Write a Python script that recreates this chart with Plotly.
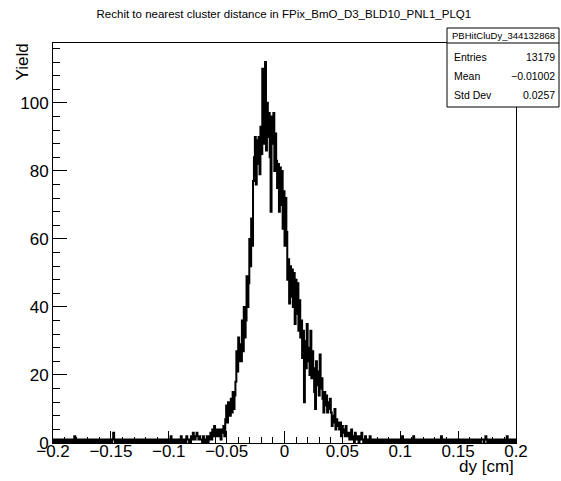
import plotly.graph_objects as go

# Histogram binning: dy in cm
x_min, x_max, n_bins = -0.2, 0.2, 500

# Bin contents (left tail, central peak, right tail)
counts_left_tail = [
    0, 1, 0, 1, 1, 0, 0, 1, 0, 1, 0, 0, 1, 1, 0, 1, 0, 0, 1, 0,
    1, 0, 1, 2, 0, 0, 1, 0, 1, 0, 1, 1, 0, 0, 1, 0, 0, 1, 1, 0,
    0, 1, 1, 0, 1, 0, 0, 1, 0, 1, 0, 1, 1, 0, 0, 1, 0, 1, 0, 0,
    1, 0, 1, 0, 1, 3, 1, 0, 1, 0, 0, 1, 1, 0, 1, 0, 1, 0, 0, 1,
    1, 0, 0, 1, 1, 0, 1, 0, 1, 0, 1, 1, 0, 0, 1, 0, 1, 1, 0, 1,
    0, 1, 0, 0, 1, 1, 0, 1, 1, 0, 1, 0, 1, 0, 0, 1, 1, 0, 1, 0,
    1, 0, 1, 1, 0, 1, 0, 2, 1, 0, 1, 1, 0, 1, 1, 0, 1, 0, 2, 1,
    0, 1, 1, 0, 2, 1, 1, 0, 1, 2, 1, 3, 2, 1, 2, 3, 2, 1, 2, 1,
]
counts_core = [
    1, 0, 2, 1, 0, 1, 2, 0, 1, 2,
    3, 1, 4, 2, 5, 3, 2, 4,
    2, 4, 3, 1, 4, 3, 5, 2,
    7, 11, 6, 12, 9, 8,
    13, 9, 15, 10, 14,
    18, 27, 21, 31, 24, 29,
    24, 36, 27, 40, 31,
    36, 49, 40,
    47, 60, 52, 66, 58, 77,
    84, 90, 76, 89, 82, 90, 79,
    93, 85, 110,
    88, 95, 112, 86,
    100, 90, 97, 84,
    68, 96, 88, 97,
    80, 91, 83, 75, 82,
    68, 81, 70, 80, 63,
    74, 58, 72,
    62, 48,
    54, 41, 52, 43, 51,
    40, 50, 35, 48, 38, 47, 33,
    42, 31,
    36, 25, 33, 12, 30, 22, 35, 24, 28, 20, 33, 19, 27,
    22, 15, 10, 24, 17, 21, 14, 26, 16, 19,
    13, 9, 15, 11, 14, 9, 12, 10, 13,
    9, 5, 8, 6, 10, 4, 7, 5, 6,
    4, 6, 2, 5, 3, 4, 2, 5, 3,
    2, 3, 1, 2, 4, 1, 2, 0, 3, 1, 2, 1, 0, 2, 1, 3, 1, 0, 1, 2, 0, 1, 1, 0, 2,
]
counts_right_tail = [
    1, 0, 1, 1, 0, 1, 0, 1, 0, 1, 1, 0, 1, 0, 0, 1, 0, 1, 1, 0,
    1, 0, 1, 0, 0, 1, 0, 1, 1, 0, 0, 1, 0, 0, 2, 0, 1, 0, 0, 1,
    0, 1, 0, 0, 1, 0, 2, 0, 0, 1, 1, 0, 1, 0, 0, 1, 1, 0, 1, 0,
    0, 1, 0, 1, 1, 0, 0, 1, 1, 0, 1, 0, 0, 1, 0, 1, 2, 0, 1, 0,
    1, 0, 0, 1, 0, 1, 1, 0, 0, 1, 0, 1, 1, 0, 1, 0, 0, 1, 1, 0,
    1, 0, 1, 1, 0, 0, 1, 1, 0, 1, 0, 1, 0, 0, 1, 1, 0, 1, 0, 1,
    1, 1, 0, 1, 2, 1, 0, 1, 0, 0, 1, 1, 0, 1, 0, 0, 1, 0, 1, 1,
    0, 1, 0, 1, 0, 0, 1, 2, 0, 1, 0, 0, 1, 0, 0, 1, 0,
]

# Axis ticks
x_tick_vals = [-0.2, -0.15, -0.1, -0.05, 0.0, 0.05, 0.1, 0.15, 0.2]
x_tick_text = ["\u22120.2", "\u22120.15", "\u22120.1", "\u22120.05", "0",
               "0.05", "0.1", "0.15", "0.2"]
y_tick_vals = [0, 20, 40, 60, 80, 100]

# Stats box contents
hist_name = "PBHitCluDy_344132868"
stat_names = ["Entries", "Mean", "Std Dev"]
stat_values = ["13179", "\u22120.01002", "0.0257"]

counts = counts_left_tail + counts_core + counts_right_tail
bin_width = (x_max - x_min) / n_bins
edges = [x_min + k * bin_width for k in range(n_bins + 1)]

# Step outline: start on the baseline, one step per bin, back down at the end
step_x = [edges[0]] + edges[:-1] + [edges[-1], edges[-1]]
step_y = [0] + counts + [counts[-1], 0]

FONT = "Liberation Sans, Arial, Helvetica, sans-serif"

fig = go.Figure()
fig.add_trace(go.Scatter(
    x=step_x, y=step_y, mode="lines",
    line=dict(color="black", width=2, shape="hv"),
    hoverinfo="skip", showlegend=False,
))

y_top = 1.05 * max(counts)

fig.update_layout(
    width=561, height=481,
    margin=dict(l=53, r=45, t=43, b=38, pad=0),
    paper_bgcolor="white", plot_bgcolor="white",
    font=dict(family=FONT, color="black"),
    showlegend=False,
    title=dict(
        text="Rechit to nearest cluster distance in FPix_BmO_D3_BLD10_PNL1_PLQ1",
        x=0.506, xref="container", xanchor="center",
        y=1 - 14 / 481, yref="container", yanchor="middle",
        font=dict(family=FONT, size=11.5, color="black"),
    ),
    xaxis=dict(
        range=[x_min, x_max], tickmode="array",
        tickvals=x_tick_vals, ticktext=x_tick_text,
        ticks="inside", ticklen=12, tickwidth=1, tickcolor="black",
        tickfont=dict(family=FONT, size=17, color="black"),
        ticklabelstandoff=-7,
        minor=dict(tickmode="linear", tick0=x_min, dtick=0.01,
                   ticks="inside", ticklen=6, tickwidth=1, tickcolor="black",
                   showgrid=False),
        showline=True, linecolor="black", linewidth=1, mirror=True,
        showgrid=False, zeroline=False,
    ),
    yaxis=dict(
        range=[0, y_top], tickmode="array", tickvals=y_tick_vals,
        ticks="inside", ticklen=14, tickwidth=1, tickcolor="black",
        tickfont=dict(family=FONT, size=17, color="black"),
        minor=dict(tickmode="linear", tick0=0, dtick=4,
                   ticks="inside", ticklen=7, tickwidth=1, tickcolor="black",
                   showgrid=False),
        showline=True, linecolor="black", linewidth=1, mirror=True,
        showgrid=False, zeroline=False,
    ),
)

# Axis titles, ROOT style: at the far ends of the axes
fig.add_annotation(text="Yield", xref="paper", yref="paper",
                   x=-31 / 463, y=1.005, xanchor="center", yanchor="top",
                   textangle=-90, showarrow=False,
                   font=dict(family=FONT, size=17, color="black"))
fig.add_annotation(text="dy [cm]", xref="paper", yref="paper",
                   x=1.0, y=-23 / 400, xanchor="right", yanchor="middle",
                   showarrow=False,
                   font=dict(family=FONT, size=17, color="black"))

# Statistics box
def px_x(p):
    return (p - 53) / 463

def px_y(p):
    return (443 - p) / 400

box_l, box_r, box_t, box_sep, box_b = 447, 559, 28, 43, 107
fig.add_shape(type="rect", xref="paper", yref="paper",
              x0=px_x(box_l), x1=px_x(box_r), y0=px_y(box_b), y1=px_y(box_t),
              line=dict(color="black", width=1), fillcolor="white", layer="above")
fig.add_shape(type="line", xref="paper", yref="paper",
              x0=px_x(box_l), x1=px_x(box_r), y0=px_y(box_sep), y1=px_y(box_sep),
              line=dict(color="black", width=1), layer="above")
fig.add_annotation(text=hist_name, xref="paper", yref="paper",
                   x=px_x((box_l + box_r) / 2), y=px_y(35.5),
                   xanchor="center", yanchor="middle", showarrow=False,
                   font=dict(family=FONT, size=9.5, color="black"))
row_y = [57, 76, 95]
for name, val, ry in zip(stat_names, stat_values, row_y):
    fig.add_annotation(text=name, xref="paper", yref="paper",
                       x=px_x(452), y=px_y(ry), xanchor="left", yanchor="middle",
                       showarrow=False, font=dict(family=FONT, size=10.5, color="black"))
    fig.add_annotation(text=val, xref="paper", yref="paper",
                       x=px_x(557), y=px_y(ry), xanchor="right", yanchor="middle",
                       showarrow=False, font=dict(family=FONT, size=10.5, color="black"))

fig.write_html("out.html")
